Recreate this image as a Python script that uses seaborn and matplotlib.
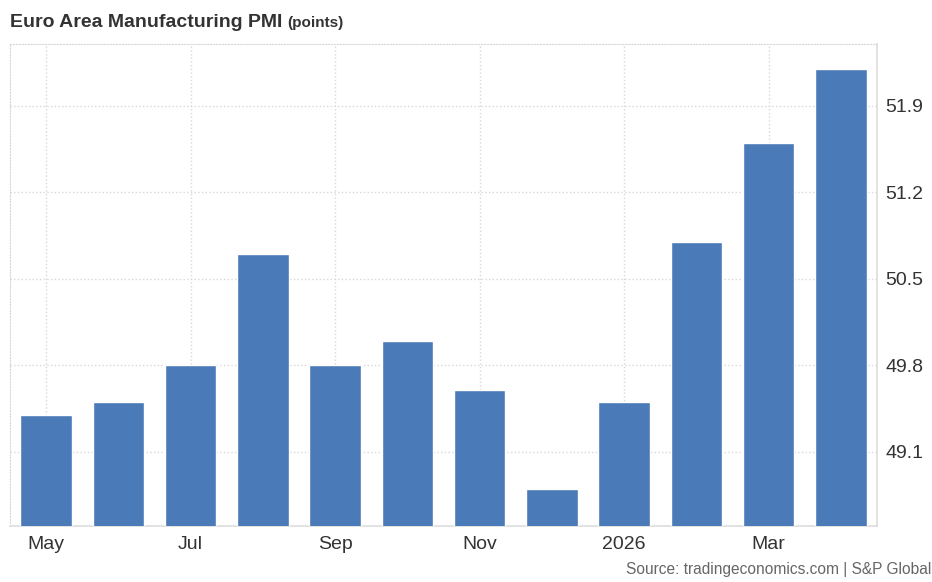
import pandas as pd
import matplotlib.pyplot as plt
import seaborn as sns

# 数据
months = ['May', 'Jun', 'Jul', 'Aug', 'Sep', 'Oct', 'Nov', 'Dec', 'Jan', 'Feb', 'Mar', 'Apr']
month_labels = ['May', '', 'Jul', '', 'Sep', '', 'Nov', '', '2026', '', 'Mar', '']
pmi = [49.4, 49.5, 49.8, 50.7, 49.8, 50.0, 49.6, 48.8, 49.5, 50.8, 51.6, 52.2]
yticks = [49.1, 49.8, 50.5, 51.2, 51.9]

df = pd.DataFrame({'month': months, 'pmi': pmi})

sns.set_style('white')
plt.rcParams['font.family'] = ['Liberation Sans', 'DejaVu Sans']

fig = plt.figure(figsize=(9.32, 5.82), dpi=100)
ax = fig.add_axes([0.0107, 0.0962, 0.9303, 0.8282])

sns.barplot(data=df, x='month', y='pmi', order=months, color='#4a7ab7',
            saturation=1, width=0.71, ax=ax, zorder=3)

ax.set_ylim(48.5, 52.4)
ax.set_xlim(-0.5, 11.5)
ax.set_yticks(yticks)
ax.set_yticklabels([f'{v:.1f}' for v in yticks])
ax.yaxis.tick_right()
ax.set_xticks(range(len(months)))
ax.set_xticklabels(month_labels)
ax.set_xlabel('')
ax.set_ylabel('')
ax.tick_params(axis='y', length=0, pad=6, labelsize=14, labelcolor='#333333')
ax.tick_params(axis='x', length=0, pad=7, labelsize=14, labelcolor='#333333')

# 网格
ax.grid(axis='y', color='#d8d8d8', linestyle=':', linewidth=1, zorder=0)
for i, lab in enumerate(month_labels):
    if lab:
        ax.axvline(i, color='#d8d8d8', linestyle=':', linewidth=1, zorder=0)

for s in ['top', 'left']:
    ax.spines[s].set_color('#d8d8d8')
    ax.spines[s].set_linestyle(':')
for s in ['right', 'bottom']:
    ax.spines[s].set_color('#dddddd')
    ax.spines[s].set_linewidth(1.2)

fig.text(0.0107, 0.962, 'Euro Area Manufacturing PMI', fontsize=14,
         fontweight='bold', color='#333333', va='center')
fig.text(0.308, 0.960, '(points)', fontsize=11, fontweight='bold',
         color='#333333', va='center')
fig.text(0.999, 0.008, 'Source: tradingeconomics.com | S&P Global', fontsize=11.2,
         color='#666666', ha='right', va='bottom')

fig.savefig('out.png', dpi=100)
